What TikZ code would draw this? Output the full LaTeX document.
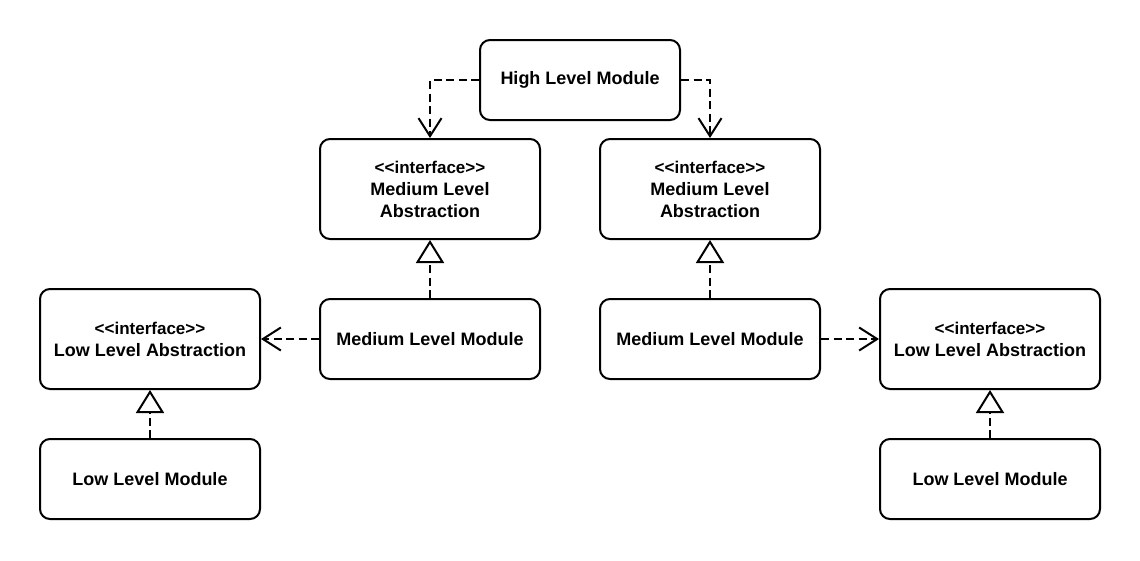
\documentclass[tikz,border=0pt]{standalone}
\usepackage{fontspec}
\setmainfont{Liberation Sans}
\usetikzlibrary{arrows.meta}

\begin{document}
\begin{tikzpicture}[x=1pt,y=-1pt,
        box/.style={shape=rectangle,rounded corners=10pt,draw=black,line width=2pt,
            minimum width=220pt,minimum height=80pt,align=center,
            font=\fontsize{18}{22}\selectfont\bfseries},
        absbox/.style={box,minimum height=100pt},
        dep/.style={line width=2pt,dash pattern=on 8pt off 4.5pt,-{Straight Barb[length=18pt,width=23pt]}},
        real/.style={line width=2pt,dash pattern=on 8pt off 4.5pt,-{Triangle[open,length=23pt,width=28pt]}}]
        \useasboundingbox (0,0) rectangle (1140,560);
        \newcommand{\iface}{{\fontsize{17}{21}\selectfont <{}<interface>{}>}}
        \node[box,minimum width=200pt] (high) at (580,80) {High Level Module};
        \node[absbox] (mla1) at (430,189) {\iface\\Medium Level\\Abstraction};
        \node[absbox] (mla2) at (710,189) {\iface\\Medium Level\\Abstraction};
        \node[box] (mlm1) at (430,339) {Medium Level Module};
        \node[box] (mlm2) at (710,339) {Medium Level Module};
        \node[absbox] (lla1) at (150,339) {\iface\\Low Level Abstraction};
        \node[absbox] (lla2) at (990,339) {\iface\\Low Level Abstraction};
        \node[box] (llm1) at (150,479) {Low Level Module};
        \node[box] (llm2) at (990,479) {Low Level Module};
        \draw[dep] (high.west) -| (mla1.north);
        \draw[dep] (high.east) -| (mla2.north);
        \path[real] (mlm1) edge (mla1);
        \path[real] (mlm2) edge (mla2);
        \path[dep] (mlm1) edge (lla1);
        \path[dep] (mlm2) edge (lla2);
        \path[real] (llm1) edge (lla1);
        \path[real] (llm2) edge (lla2);
    \end{tikzpicture}
\end{document}
